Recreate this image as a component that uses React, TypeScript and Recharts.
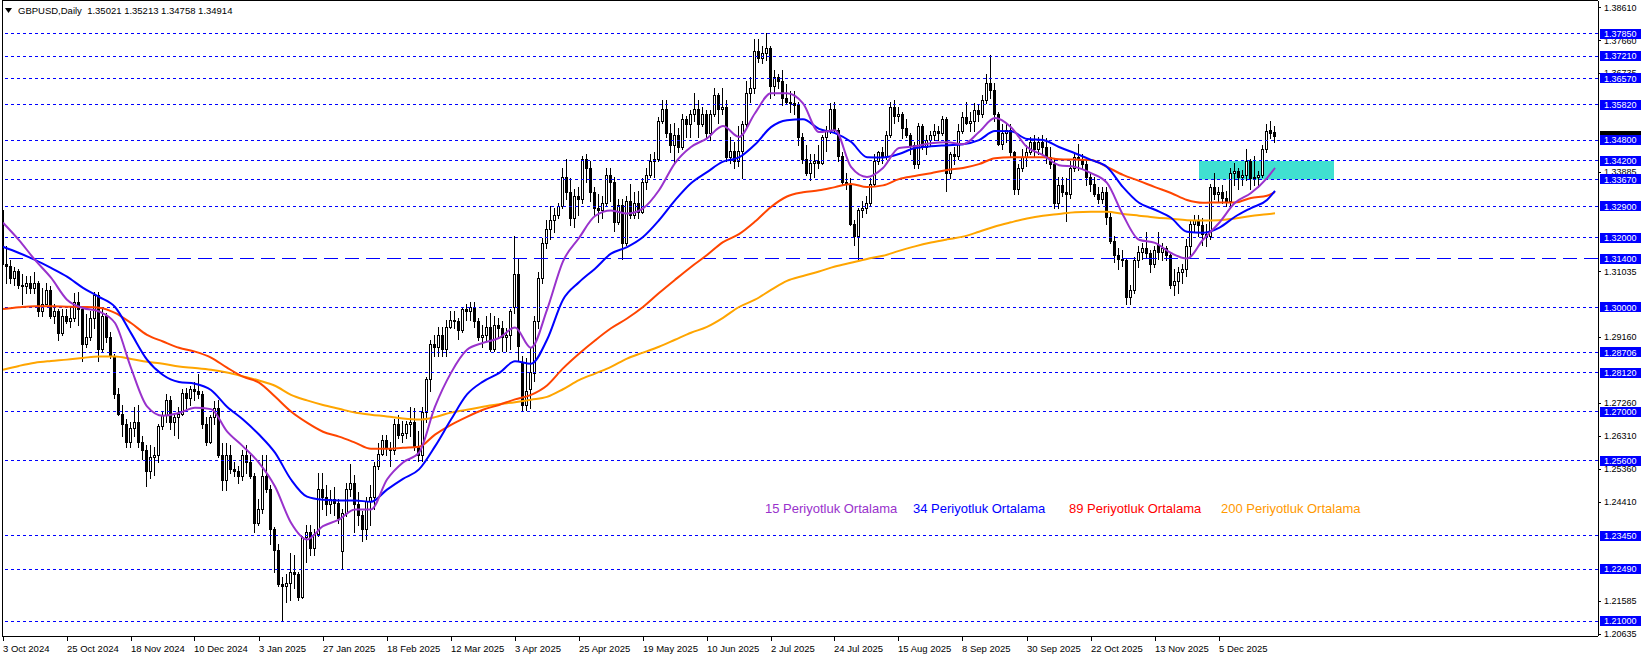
import React from 'react';
import { ComposedChart, Bar, Line, XAxis, YAxis, ReferenceLine, ReferenceArea } from 'recharts';

type Ohlc = [number, number, number, number];

// daily candles, [open, high, low, close]
const oct2024: Ohlc[] = [
  [1.3280, 1.3288, 1.3090, 1.3125], [1.3125, 1.3175, 1.3070, 1.3120], [1.3120, 1.3135, 1.3070, 1.3085],
  [1.3085, 1.3115, 1.3065, 1.3105], [1.3105, 1.3110, 1.3055, 1.3065], [1.3065, 1.3095, 1.3010, 1.3060],
  [1.3060, 1.3090, 1.3040, 1.3070], [1.3070, 1.3090, 1.3040, 1.3055], [1.3055, 1.3100, 1.3040, 1.3070],
  [1.3070, 1.3075, 1.2975, 1.2990], [1.2990, 1.3055, 1.2975, 1.3010], [1.3010, 1.3070, 1.3010, 1.3050],
  [1.3050, 1.3060, 1.2970, 1.2975], [1.2975, 1.3010, 1.2955, 1.2990], [1.2990, 1.2995, 1.2905, 1.2925],
  [1.2925, 1.2995, 1.2920, 1.2975], [1.2975, 1.2995, 1.2955, 1.2960], [1.2960, 1.3000, 1.2945, 1.2970],
  [1.2970, 1.3040, 1.2960, 1.3015], [1.3015, 1.3045, 1.2950, 1.2995], [1.2995, 1.3000, 1.2845, 1.2895],
];
const nov2024: Ohlc[] = [
  [1.2895, 1.2980, 1.2885, 1.2915], [1.2915, 1.2990, 1.2905, 1.2970], [1.2970, 1.3045, 1.2940, 1.3035],
  [1.3035, 1.3045, 1.2845, 1.2880], [1.2880, 1.3000, 1.2875, 1.2975], [1.2975, 1.2985, 1.2900, 1.2915],
  [1.2915, 1.2930, 1.2855, 1.2860], [1.2860, 1.2865, 1.2740, 1.2750], [1.2750, 1.2770, 1.2690, 1.2695],
  [1.2695, 1.2720, 1.2630, 1.2665], [1.2665, 1.2680, 1.2600, 1.2615], [1.2615, 1.2670, 1.2600, 1.2655],
  [1.2655, 1.2715, 1.2630, 1.2670], [1.2670, 1.2720, 1.2600, 1.2615], [1.2615, 1.2630, 1.2565, 1.2590],
  [1.2590, 1.2605, 1.2487, 1.2530], [1.2530, 1.2605, 1.2510, 1.2570], [1.2570, 1.2600, 1.2520, 1.2575],
  [1.2575, 1.2665, 1.2555, 1.2660], [1.2660, 1.2700, 1.2650, 1.2690], [1.2690, 1.2750, 1.2670, 1.2735],
];
const dec2024: Ohlc[] = [
  [1.2735, 1.2745, 1.2650, 1.2670], [1.2670, 1.2695, 1.2635, 1.2685], [1.2685, 1.2715, 1.2625, 1.2695],
  [1.2695, 1.2765, 1.2690, 1.2755], [1.2755, 1.2770, 1.2710, 1.2740], [1.2740, 1.2775, 1.2720, 1.2765],
  [1.2765, 1.2785, 1.2735, 1.2760], [1.2760, 1.2810, 1.2740, 1.2750], [1.2750, 1.2760, 1.2655, 1.2665],
  [1.2665, 1.2685, 1.2605, 1.2615], [1.2615, 1.2690, 1.2610, 1.2685], [1.2685, 1.2730, 1.2665, 1.2710],
  [1.2710, 1.2735, 1.2570, 1.2575], [1.2575, 1.2610, 1.2475, 1.2505], [1.2505, 1.2610, 1.2475, 1.2575],
  [1.2575, 1.2605, 1.2525, 1.2535], [1.2535, 1.2555, 1.2515, 1.2530], [1.2530, 1.2545, 1.2495, 1.2515],
  [1.2515, 1.2590, 1.2505, 1.2575], [1.2575, 1.2605, 1.2525, 1.2555], [1.2555, 1.2575, 1.2510, 1.2515],
];
const jan2025: Ohlc[] = [
  [1.2515, 1.2525, 1.2355, 1.2380], [1.2380, 1.2450, 1.2375, 1.2420], [1.2420, 1.2575, 1.2410, 1.2515],
  [1.2515, 1.2575, 1.2470, 1.2480], [1.2480, 1.2490, 1.2320, 1.2365], [1.2365, 1.2370, 1.2240, 1.2305],
  [1.2305, 1.2320, 1.2200, 1.2205], [1.2205, 1.2225, 1.2100, 1.2200], [1.2200, 1.2235, 1.2155, 1.2210],
  [1.2210, 1.2295, 1.2160, 1.2240], [1.2240, 1.2290, 1.2195, 1.2235], [1.2235, 1.2240, 1.2160, 1.2170],
  [1.2170, 1.2345, 1.2165, 1.2340], [1.2340, 1.2375, 1.2270, 1.2355], [1.2355, 1.2375, 1.2290, 1.2310],
  [1.2310, 1.2365, 1.2290, 1.2350], [1.2350, 1.2525, 1.2345, 1.2480], [1.2480, 1.2525, 1.2420, 1.2455],
  [1.2455, 1.2490, 1.2405, 1.2435], [1.2435, 1.2475, 1.2410, 1.2450], [1.2450, 1.2485, 1.2405, 1.2440],
  [1.2440, 1.2450, 1.2380, 1.2395],
];
const feb2025: Ohlc[] = [
  [1.2300, 1.2420, 1.2250, 1.2410], [1.2410, 1.2495, 1.2400, 1.2480], [1.2480, 1.2550, 1.2460, 1.2495],
  [1.2495, 1.2520, 1.2355, 1.2435], [1.2435, 1.2470, 1.2375, 1.2405], [1.2405, 1.2415, 1.2330, 1.2365],
  [1.2365, 1.2455, 1.2335, 1.2445], [1.2445, 1.2490, 1.2375, 1.2455], [1.2455, 1.2555, 1.2420, 1.2545],
  [1.2545, 1.2610, 1.2535, 1.2580], [1.2580, 1.2635, 1.2575, 1.2620], [1.2620, 1.2635, 1.2575, 1.2595],
  [1.2595, 1.2615, 1.2545, 1.2590], [1.2590, 1.2680, 1.2580, 1.2665], [1.2665, 1.2690, 1.2625, 1.2635],
  [1.2635, 1.2675, 1.2615, 1.2640], [1.2640, 1.2675, 1.2625, 1.2665], [1.2665, 1.2715, 1.2630, 1.2670],
  [1.2670, 1.2710, 1.2590, 1.2600], [1.2600, 1.2645, 1.2560, 1.2575],
];
const mar2025: Ohlc[] = [
  [1.2575, 1.2715, 1.2560, 1.2700], [1.2700, 1.2800, 1.2670, 1.2795], [1.2795, 1.2905, 1.2760, 1.2895],
  [1.2895, 1.2920, 1.2860, 1.2885], [1.2885, 1.2945, 1.2860, 1.2920], [1.2920, 1.2945, 1.2860, 1.2880],
  [1.2880, 1.2965, 1.2860, 1.2945], [1.2945, 1.2990, 1.2940, 1.2965], [1.2965, 1.2990, 1.2940, 1.2960],
  [1.2960, 1.2970, 1.2910, 1.2935], [1.2935, 1.3000, 1.2930, 1.2995], [1.2995, 1.3010, 1.2965, 1.2990],
  [1.2990, 1.3015, 1.2965, 1.3000], [1.3000, 1.3015, 1.2945, 1.2960], [1.2960, 1.2970, 1.2905, 1.2915],
  [1.2915, 1.2950, 1.2885, 1.2920], [1.2920, 1.2975, 1.2905, 1.2945], [1.2945, 1.2985, 1.2875, 1.2880],
  [1.2880, 1.2975, 1.2875, 1.2950], [1.2950, 1.2970, 1.2915, 1.2940], [1.2940, 1.2960, 1.2875, 1.2915],
];
const apr2025: Ohlc[] = [
  [1.2915, 1.2940, 1.2875, 1.2920], [1.2920, 1.2995, 1.2880, 1.2990], [1.3000, 1.3205, 1.2985, 1.3095],
  [1.3095, 1.3140, 1.2848, 1.2890], [1.2840, 1.2860, 1.2705, 1.2720], [1.2720, 1.2855, 1.2705, 1.2760],
  [1.2765, 1.2885, 1.2710, 1.2815], [1.2812, 1.2975, 1.2790, 1.2960], [1.2960, 1.3100, 1.2940, 1.3083],
  [1.3083, 1.3200, 1.3070, 1.3185], [1.3185, 1.3250, 1.3170, 1.3225], [1.3225, 1.3290, 1.3195, 1.3250],
  [1.3250, 1.3285, 1.3215, 1.3265], [1.3265, 1.3300, 1.3255, 1.3290], [1.3290, 1.3400, 1.3285, 1.3375],
  [1.3375, 1.3425, 1.3310, 1.3330], [1.3330, 1.3370, 1.3235, 1.3255], [1.3255, 1.3340, 1.3230, 1.3320],
  [1.3320, 1.3345, 1.3265, 1.3310], [1.3310, 1.3435, 1.3300, 1.3425], [1.3425, 1.3440, 1.3360, 1.3400],
  [1.3400, 1.3420, 1.3305, 1.3330],
];
const may2025: Ohlc[] = [
  [1.3330, 1.3345, 1.3265, 1.3285], [1.3285, 1.3325, 1.3245, 1.3280], [1.3280, 1.3320, 1.3255, 1.3300],
  [1.3300, 1.3400, 1.3290, 1.3380], [1.3380, 1.3400, 1.3305, 1.3360], [1.3360, 1.3375, 1.3220, 1.3245],
  [1.3245, 1.3310, 1.3240, 1.3295], [1.3295, 1.3310, 1.3140, 1.3185], [1.3185, 1.3320, 1.3180, 1.3305],
  [1.3305, 1.3355, 1.3255, 1.3265], [1.3265, 1.3330, 1.3255, 1.3300], [1.3300, 1.3335, 1.3255, 1.3275],
  [1.3275, 1.3370, 1.3270, 1.3360], [1.3360, 1.3400, 1.3340, 1.3380], [1.3380, 1.3440, 1.3375, 1.3420],
  [1.3420, 1.3445, 1.3375, 1.3425], [1.3425, 1.3545, 1.3420, 1.3535], [1.3535, 1.3595, 1.3530, 1.3570],
  [1.3570, 1.3595, 1.3490, 1.3500], [1.3500, 1.3525, 1.3445, 1.3465], [1.3465, 1.3530, 1.3415, 1.3495],
  [1.3495, 1.3515, 1.3445, 1.3460],
];
const jun2025: Ohlc[] = [
  [1.3460, 1.3555, 1.3455, 1.3540], [1.3540, 1.3550, 1.3490, 1.3525], [1.3525, 1.3565, 1.3490, 1.3555],
  [1.3555, 1.3615, 1.3535, 1.3570], [1.3570, 1.3595, 1.3490, 1.3525], [1.3525, 1.3575, 1.3520, 1.3555],
  [1.3555, 1.3565, 1.3485, 1.3500], [1.3500, 1.3565, 1.3480, 1.3555], [1.3555, 1.3630, 1.3550, 1.3610],
  [1.3610, 1.3615, 1.3530, 1.3570], [1.3570, 1.3630, 1.3555, 1.3575], [1.3575, 1.3595, 1.3420, 1.3430],
  [1.3430, 1.3490, 1.3415, 1.3450], [1.3450, 1.3475, 1.3400, 1.3420], [1.3420, 1.3520, 1.3405, 1.3450],
  [1.3450, 1.3535, 1.3370, 1.3525], [1.3525, 1.3650, 1.3515, 1.3615], [1.3615, 1.3660, 1.3590, 1.3630],
  [1.3630, 1.3770, 1.3615, 1.3735], [1.3735, 1.3770, 1.3705, 1.3715], [1.3715, 1.3750, 1.3700, 1.3730],
];
const jul2025: Ohlc[] = [
  [1.3730, 1.3788, 1.3710, 1.3745], [1.3745, 1.3750, 1.3600, 1.3635], [1.3635, 1.3680, 1.3610, 1.3660],
  [1.3660, 1.3670, 1.3630, 1.3650], [1.3650, 1.3680, 1.3580, 1.3600], [1.3600, 1.3640, 1.3585, 1.3590],
  [1.3590, 1.3620, 1.3560, 1.3585], [1.3585, 1.3620, 1.3555, 1.3580], [1.3580, 1.3590, 1.3465, 1.3490],
  [1.3490, 1.3500, 1.3415, 1.3425], [1.3425, 1.3465, 1.3380, 1.3385], [1.3385, 1.3440, 1.3365, 1.3415],
  [1.3415, 1.3440, 1.3375, 1.3420], [1.3420, 1.3465, 1.3400, 1.3415], [1.3415, 1.3495, 1.3410, 1.3490],
  [1.3490, 1.3520, 1.3450, 1.3505], [1.3505, 1.3585, 1.3500, 1.3570], [1.3570, 1.3590, 1.3500, 1.3510],
  [1.3510, 1.3515, 1.3420, 1.3435], [1.3435, 1.3445, 1.3350, 1.3360], [1.3360, 1.3385, 1.3340, 1.3355],
  [1.3355, 1.3370, 1.3235, 1.3240], [1.3240, 1.3250, 1.3180, 1.3205],
];
const aug2025: Ohlc[] = [
  [1.3205, 1.3285, 1.3140, 1.3280], [1.3280, 1.3305, 1.3260, 1.3285], [1.3285, 1.3320, 1.3270, 1.3300],
  [1.3300, 1.3370, 1.3290, 1.3355], [1.3355, 1.3440, 1.3350, 1.3420], [1.3420, 1.3450, 1.3410, 1.3445],
  [1.3445, 1.3460, 1.3415, 1.3435], [1.3435, 1.3505, 1.3425, 1.3495], [1.3495, 1.3590, 1.3490, 1.3575],
  [1.3575, 1.3595, 1.3530, 1.3550], [1.3550, 1.3575, 1.3535, 1.3555], [1.3555, 1.3560, 1.3485, 1.3515],
  [1.3515, 1.3540, 1.3490, 1.3495], [1.3495, 1.3500, 1.3440, 1.3465], [1.3465, 1.3475, 1.3400, 1.3410],
  [1.3410, 1.3530, 1.3400, 1.3520], [1.3520, 1.3525, 1.3455, 1.3460], [1.3460, 1.3495, 1.3440, 1.3480],
  [1.3480, 1.3505, 1.3465, 1.3495], [1.3495, 1.3525, 1.3480, 1.3505], [1.3505, 1.3520, 1.3480, 1.3500],
];
const sep2025: Ohlc[] = [
  [1.3500, 1.3550, 1.3495, 1.3540], [1.3540, 1.3545, 1.3335, 1.3385], [1.3385, 1.3445, 1.3370, 1.3440],
  [1.3440, 1.3460, 1.3410, 1.3435], [1.3435, 1.3525, 1.3425, 1.3505], [1.3505, 1.3560, 1.3500, 1.3545],
  [1.3545, 1.3590, 1.3525, 1.3530], [1.3530, 1.3560, 1.3505, 1.3535], [1.3535, 1.3585, 1.3505, 1.3565],
  [1.3565, 1.3580, 1.3535, 1.3555], [1.3555, 1.3610, 1.3545, 1.3595], [1.3595, 1.3670, 1.3585, 1.3645],
  [1.3645, 1.3725, 1.3600, 1.3625], [1.3625, 1.3645, 1.3535, 1.3555], [1.3555, 1.3560, 1.3465, 1.3470],
  [1.3470, 1.3525, 1.3455, 1.3500], [1.3500, 1.3525, 1.3475, 1.3510], [1.3510, 1.3525, 1.3430, 1.3445],
  [1.3445, 1.3450, 1.3325, 1.3340], [1.3340, 1.3410, 1.3325, 1.3400], [1.3400, 1.3455, 1.3390, 1.3430],
  [1.3430, 1.3465, 1.3405, 1.3445],
];
const oct2025: Ohlc[] = [
  [1.3445, 1.3490, 1.3440, 1.3475], [1.3475, 1.3495, 1.3435, 1.3455], [1.3455, 1.3490, 1.3440, 1.3475],
  [1.3475, 1.3495, 1.3440, 1.3460], [1.3460, 1.3485, 1.3415, 1.3430], [1.3430, 1.3460, 1.3400, 1.3410],
  [1.3410, 1.3425, 1.3285, 1.3300], [1.3300, 1.3375, 1.3285, 1.3350], [1.3350, 1.3375, 1.3320, 1.3330],
  [1.3330, 1.3370, 1.3248, 1.3325], [1.3325, 1.3420, 1.3315, 1.3400], [1.3400, 1.3440, 1.3390, 1.3430],
  [1.3430, 1.3470, 1.3395, 1.3425], [1.3425, 1.3440, 1.3400, 1.3410], [1.3410, 1.3420, 1.3350, 1.3375],
  [1.3375, 1.3385, 1.3335, 1.3355], [1.3355, 1.3375, 1.3320, 1.3325], [1.3325, 1.3345, 1.3300, 1.3310],
  [1.3310, 1.3345, 1.3300, 1.3330], [1.3330, 1.3345, 1.3240, 1.3260], [1.3260, 1.3270, 1.3185, 1.3190],
  [1.3190, 1.3205, 1.3130, 1.3150], [1.3150, 1.3170, 1.3110, 1.3140],
];
const nov2025: Ohlc[] = [
  [1.3140, 1.3165, 1.3120, 1.3135], [1.3135, 1.3140, 1.3010, 1.3030], [1.3030, 1.3065, 1.3010, 1.3050],
  [1.3050, 1.3145, 1.3040, 1.3135], [1.3135, 1.3175, 1.3115, 1.3160], [1.3160, 1.3185, 1.3140, 1.3170],
  [1.3170, 1.3215, 1.3145, 1.3155], [1.3155, 1.3165, 1.3100, 1.3125], [1.3125, 1.3175, 1.3115, 1.3165],
  [1.3180, 1.3215, 1.3140, 1.3160], [1.3160, 1.3185, 1.3135, 1.3170], [1.3170, 1.3175, 1.3135, 1.3150],
  [1.3150, 1.3160, 1.3055, 1.3065], [1.3065, 1.3110, 1.3035, 1.3075], [1.3075, 1.3115, 1.3040, 1.3100],
  [1.3100, 1.3125, 1.3070, 1.3110], [1.3110, 1.3195, 1.3090, 1.3175], [1.3175, 1.3250, 1.3150, 1.3240],
  [1.3240, 1.3265, 1.3215, 1.3250], [1.3250, 1.3265, 1.3205, 1.3235],
];
const dec2025: Ohlc[] = [
  [1.3235, 1.3255, 1.3180, 1.3210], [1.3210, 1.3240, 1.3175, 1.3205], [1.3205, 1.3355, 1.3195, 1.3345],
  [1.3345, 1.3385, 1.3310, 1.3325], [1.3325, 1.3345, 1.3305, 1.3330], [1.3330, 1.3350, 1.3300, 1.3315],
  [1.3315, 1.3335, 1.3290, 1.3305], [1.3305, 1.3400, 1.3290, 1.3385], [1.3385, 1.3415, 1.3350, 1.3390],
  [1.3390, 1.3400, 1.3340, 1.3375], [1.3375, 1.3395, 1.3350, 1.3380], [1.3380, 1.3455, 1.3365, 1.3420],
  [1.3420, 1.3425, 1.3340, 1.3370], [1.3370, 1.3435, 1.3350, 1.3375], [1.3375, 1.3390, 1.3345, 1.3380],
  [1.3380, 1.3465, 1.3375, 1.3455], [1.3455, 1.3525, 1.3445, 1.3505], [1.3510, 1.3535, 1.3485, 1.3500],
  [1.35021, 1.35213, 1.34758, 1.34914],
];

const candles: Ohlc[] = [
  ...oct2024, ...nov2024, ...dec2024, ...jan2025, ...feb2025, ...mar2025, ...apr2025, ...may2025,
  ...jun2025, ...jul2025, ...aug2025, ...sep2025, ...oct2025, ...nov2025, ...dec2025,
];

// moving averages at every 4th bar
const maBars = [
  0, 4, 8, 12, 16, 20, 24, 28, 32, 36, 40, 44, 48, 52, 56, 60, 64, 68, 72, 76, 80, 84, 88, 92, 96, 100,
  104, 108, 112, 116, 120, 124, 128, 132, 136, 140, 144, 148, 152, 156, 160, 164, 168, 172, 176, 180, 184,
  188, 192, 196, 200, 204, 208, 212, 216, 220, 224, 228, 232, 236, 240, 244, 248, 252, 256, 260, 264, 268,
  272, 276, 280, 284, 288, 292, 296, 300, 304, 308, 312, 316, 318,
];
const ma15 = [
  1.3243, 1.3193, 1.3136, 1.3085, 1.3022, 1.2998, 1.2988, 1.2955, 1.2826, 1.2716, 1.2689, 1.2697, 1.2712,
  1.2708, 1.2644, 1.2601, 1.2554, 1.2486, 1.2382, 1.2334, 1.2372, 1.2391, 1.2420, 1.2420, 1.2506, 1.2555,
  1.2583, 1.2715, 1.2812, 1.2878, 1.2898, 1.2912, 1.2942, 1.2884, 1.2993, 1.3132, 1.3199, 1.3262, 1.3278,
  1.3269, 1.3284, 1.3336, 1.3414, 1.3460, 1.3485, 1.3520, 1.3489, 1.3557, 1.3614, 1.3614, 1.3585, 1.3503,
  1.3508, 1.3403, 1.3374, 1.3400, 1.3457, 1.3462, 1.3471, 1.3474, 1.3468, 1.3503, 1.3543, 1.3517, 1.3460,
  1.3437, 1.3408, 1.3403, 1.3385, 1.3357, 1.3265, 1.3194, 1.3185, 1.3156, 1.3140, 1.3194, 1.3242, 1.3300,
  1.3328, 1.3371, 1.3400,
];
const ma34 = [
  1.3174, 1.3156, 1.3136, 1.3113, 1.3088, 1.3056, 1.3030, 1.3001, 1.2926, 1.2850, 1.2806, 1.2786, 1.2781,
  1.2763, 1.2715, 1.2678, 1.2635, 1.2583, 1.2506, 1.2457, 1.2448, 1.2446, 1.2446, 1.2442, 1.2477, 1.2508,
  1.2535, 1.2601, 1.2678, 1.2750, 1.2787, 1.2811, 1.2845, 1.2838, 1.2907, 1.3022, 1.3072, 1.3111, 1.3154,
  1.3173, 1.3202, 1.3250, 1.3307, 1.3356, 1.3388, 1.3418, 1.3430, 1.3467, 1.3517, 1.3537, 1.3540, 1.3512,
  1.3500, 1.3475, 1.3431, 1.3430, 1.3440, 1.3457, 1.3462, 1.3465, 1.3468, 1.3480, 1.3506, 1.3505, 1.3483,
  1.3480, 1.3460, 1.3442, 1.3423, 1.3403, 1.3345, 1.3300, 1.3280, 1.3257, 1.3217, 1.3214, 1.3228, 1.3260,
  1.3285, 1.3308, 1.3334,
];
const ma89 = [
  1.2995, 1.3000, 1.3003, 1.3003, 1.3002, 1.3001, 1.2999, 1.2984, 1.2955, 1.2921, 1.2902, 1.2884, 1.2873,
  1.2856, 1.2827, 1.2801, 1.2784, 1.2744, 1.2701, 1.2669, 1.2643, 1.2629, 1.2612, 1.2594, 1.2594, 1.2597,
  1.2600, 1.2635, 1.2663, 1.2686, 1.2706, 1.2720, 1.2736, 1.2749, 1.2776, 1.2825, 1.2867, 1.2905, 1.2940,
  1.2968, 1.3001, 1.3041, 1.3079, 1.3116, 1.3150, 1.3187, 1.3210, 1.3246, 1.3288, 1.3318, 1.3330, 1.3336,
  1.3345, 1.3354, 1.3345, 1.3350, 1.3368, 1.3377, 1.3385, 1.3394, 1.3400, 1.3411, 1.3428, 1.3431, 1.3431,
  1.3431, 1.3425, 1.3424, 1.3423, 1.3403, 1.3380, 1.3363, 1.3345, 1.3328, 1.3308, 1.3300, 1.3301, 1.3301,
  1.3314, 1.3320, 1.3331,
];
const ma200 = [
  1.2821, 1.2832, 1.2841, 1.2846, 1.2850, 1.2855, 1.2859, 1.2859, 1.2852, 1.2844, 1.2838, 1.2830, 1.2826,
  1.2821, 1.2813, 1.2802, 1.2790, 1.2775, 1.2749, 1.2733, 1.2720, 1.2709, 1.2698, 1.2692, 1.2687, 1.2681,
  1.2678, 1.2685, 1.2698, 1.2706, 1.2715, 1.2722, 1.2728, 1.2735, 1.2743, 1.2765, 1.2791, 1.2810, 1.2829,
  1.2853, 1.2870, 1.2887, 1.2907, 1.2927, 1.2944, 1.2970, 1.3001, 1.3022, 1.3050, 1.3076, 1.3090, 1.3103,
  1.3117, 1.3128, 1.3139, 1.3148, 1.3162, 1.3175, 1.3186, 1.3195, 1.3203, 1.3217, 1.3232, 1.3244, 1.3255,
  1.3263, 1.3268, 1.3273, 1.3274, 1.3274, 1.3268, 1.3263, 1.3258, 1.3254, 1.3250, 1.3249, 1.3250, 1.3255,
  1.3262, 1.3267, 1.3270,
];

const dateTicks = [0, 16, 32, 48, 64, 80, 96, 112, 128, 144, 160, 176, 192, 208, 224, 240, 256, 272, 288, 304];
const dateLabels = [
  '3 Oct 2024', '25 Oct 2024', '18 Nov 2024', '10 Dec 2024', '3 Jan 2025', '27 Jan 2025', '18 Feb 2025',
  '12 Mar 2025', '3 Apr 2025', '25 Apr 2025', '19 May 2025', '10 Jun 2025', '2 Jul 2025', '24 Jul 2025',
  '15 Aug 2025', '8 Sep 2025', '30 Sep 2025', '22 Oct 2025', '13 Nov 2025', '5 Dec 2025',
];

const axisTicks = [1.3861, 1.3766, 1.36735, 1.33885, 1.31035, 1.2916, 1.2726, 1.2631, 1.2536, 1.2441, 1.21585, 1.20635];
const levels = [
  1.3785, 1.3721, 1.3657, 1.3582, 1.348, 1.342, 1.3367, 1.329, 1.32, 1.314, 1.3, 1.28706, 1.2812, 1.27,
  1.256, 1.2345, 1.2249, 1.21,
];
const dashLevel = 1.314;
const lastClose = 1.34914;
const zoneLow = 1.3367;
const zoneHigh = 1.342;
const zoneStart = 299;
const zoneEnd = 332.75;

const legendItems = [
  { text: '15 Periyotluk Ortalama', color: '#9932CC', left: 765 },
  { text: '34 Periyotluk Ortalama', color: '#0000FF', left: 913 },
  { text: '89 Periyotluk Ortalama', color: '#FF0000', left: 1069 },
  { text: '200 Periyotluk Ortalama', color: '#FF9900', left: 1221 },
];

const FONT = "'Liberation Sans', Arial, sans-serif";
const PLOT_RIGHT = 1598;
const PLOT_BOTTOM = 636;

const data: any[] = candles.map(([o, h, l, c], i) => ({ i, o, h, l, c, range: [l, h] }));
maBars.forEach((b, k) => {
  data[b].ma15 = ma15[k];
  data[b].ma34 = ma34[k];
  data[b].ma89 = ma89[k];
  data[b].ma200 = ma200[k];
});

const CandleShape = (props: any) => {
  const { x, y, width, height, payload } = props;
  if (!payload || x == null || y == null) return null;
  const { o, h, l, c } = payload;
  const yTop = Math.min(y, y + height);
  const hPx = Math.abs(height);
  const k = h - l > 0 ? hPx / (h - l) : 0;
  const py = (p: number) => yTop + (h - p) * k;
  const cx = Math.floor(x + width / 2);
  const wTop = Math.round(yTop);
  const wBot = Math.round(yTop + hPx);
  const bTop = Math.round(py(Math.max(o, c)));
  const bBot = Math.round(py(Math.min(o, c)));
  const bull = c >= o;
  return (
    <g shapeRendering="crispEdges">
      <rect x={cx} y={wTop} width={1} height={Math.max(1, wBot - wTop + 1)} fill="#000" />
      <rect x={cx - 1} y={bTop} width={3} height={Math.max(1, bBot - bTop + 1)} fill="#000" />
      {bull && bBot - bTop > 1 && (
        <rect x={cx} y={bTop + 1} width={1} height={bBot - bTop - 1} fill="#fff" />
      )}
    </g>
  );
};

const DateTick = (props: any) => {
  const { x, payload } = props;
  const idx = dateTicks.indexOf(payload.value);
  const tx = Math.floor(x);
  return (
    <g>
      <rect x={tx} y={PLOT_BOTTOM} width={1} height={5} fill="#000" shapeRendering="crispEdges" />
      <text x={tx} y={652} fontSize={9.5} fontFamily={FONT} fill="#000" textAnchor="start">
        {dateLabels[idx]}
      </text>
    </g>
  );
};

const PriceTick = (props: any) => {
  const { y, payload } = props;
  const v = payload.value;
  const isLevel = levels.includes(v);
  const isLast = v === lastClose;
  if (isLast) {
    // current price box, almost fully covered by the 1.34800 label
    return <rect x={PLOT_RIGHT + 2} y={Math.round(y) - 5} width={41} height={10} fill="#000" shapeRendering="crispEdges" />;
  }
  if (isLevel) {
    return (
      <g>
        <rect x={PLOT_RIGHT + 2} y={Math.round(y) - 5} width={41} height={10} fill="#0000FF" shapeRendering="crispEdges" />
        <text x={PLOT_RIGHT + 6} y={y} dy={3.3} fontSize={9} fontFamily={FONT} fill="#fff">
          {v.toFixed(5)}
        </text>
      </g>
    );
  }
  return (
    <g>
      <rect x={PLOT_RIGHT} y={Math.round(y)} width={3} height={1} fill="#000" shapeRendering="crispEdges" />
      <text x={PLOT_RIGHT + 6} y={y} dy={3.3} fontSize={9} fontFamily={FONT} fill="#000">
        {v.toFixed(5)}
      </text>
    </g>
  );
};

export default function App() {
  const rightTicks = [...axisTicks, lastClose, ...levels];
  return (
    <div style={{ position: 'relative', width: 1644, height: 658, background: '#fff', overflow: 'hidden' }}>
      <style>{'body{margin:0;background:#fff}'}</style>
      <ComposedChart width={1644} height={658} data={data} margin={{ top: 1, right: 0, bottom: 0, left: 2 }}>
        <XAxis
          dataKey="i"
          type="number"
          domain={[-0.25, 398.75]}
          allowDataOverflow
          ticks={dateTicks}
          interval={0}
          height={22}
          tickLine={false}
          axisLine={{ stroke: '#000', shapeRendering: 'crispEdges' }}
          tick={<DateTick />}
        />
        <YAxis
          type="number"
          orientation="right"
          domain={[1.2057, 1.3879]}
          allowDataOverflow
          ticks={rightTicks}
          interval={0}
          width={46}
          tickLine={false}
          axisLine={{ stroke: '#000', shapeRendering: 'crispEdges' }}
          tick={<PriceTick />}
        />
        <ReferenceArea
          x1={zoneStart}
          x2={zoneEnd}
          y1={zoneLow}
          y2={zoneHigh}
          fill="#40E0D0"
          fillOpacity={1}
          stroke="none"
        />
        {levels.map((v) => (
          <ReferenceLine
            key={v}
            y={v}
            stroke="#0000FF"
            strokeWidth={1}
            strokeDasharray={v === dashLevel ? '14 7' : '3 3'}
            shapeRendering="crispEdges"
          />
        ))}
        <Bar dataKey="range" barSize={3} isAnimationActive={false} shape={(p: any) => <CandleShape {...p} />} />
        <Line dataKey="ma200" type="monotone" stroke="#FFA500" strokeWidth={2} dot={false} connectNulls isAnimationActive={false} />
        <Line dataKey="ma89" type="monotone" stroke="#FF4500" strokeWidth={2} dot={false} connectNulls isAnimationActive={false} />
        <Line dataKey="ma34" type="monotone" stroke="#0000FF" strokeWidth={2} dot={false} connectNulls isAnimationActive={false} />
        <Line dataKey="ma15" type="monotone" stroke="#9932CC" strokeWidth={2} dot={false} connectNulls isAnimationActive={false} />
      </ComposedChart>

      <div style={{ position: 'absolute', left: 2, top: 0, width: PLOT_RIGHT - 2, height: PLOT_BOTTOM, borderTop: '1px solid #000', borderLeft: '1px solid #000', boxSizing: 'border-box', pointerEvents: 'none' }} />

      <svg style={{ position: 'absolute', left: 5, top: 8 }} width={8} height={6}>
        <polygon points="0,0 7,0 3.5,5" fill="#000" />
      </svg>
      <div style={{ position: 'absolute', left: 18, top: 5, fontFamily: FONT, fontSize: 9.5, lineHeight: '12px', color: '#000', whiteSpace: 'pre' }}>
        {'GBPUSD,Daily  1.35021 1.35213 1.34758 1.34914'}
      </div>

      {legendItems.map((item) => (
        <div
          key={item.text}
          style={{ position: 'absolute', left: item.left, top: 501, fontFamily: FONT, fontSize: 13, lineHeight: '15px', color: item.color, whiteSpace: 'nowrap' }}
        >
          {item.text}
        </div>
      ))}
    </div>
  );
}
